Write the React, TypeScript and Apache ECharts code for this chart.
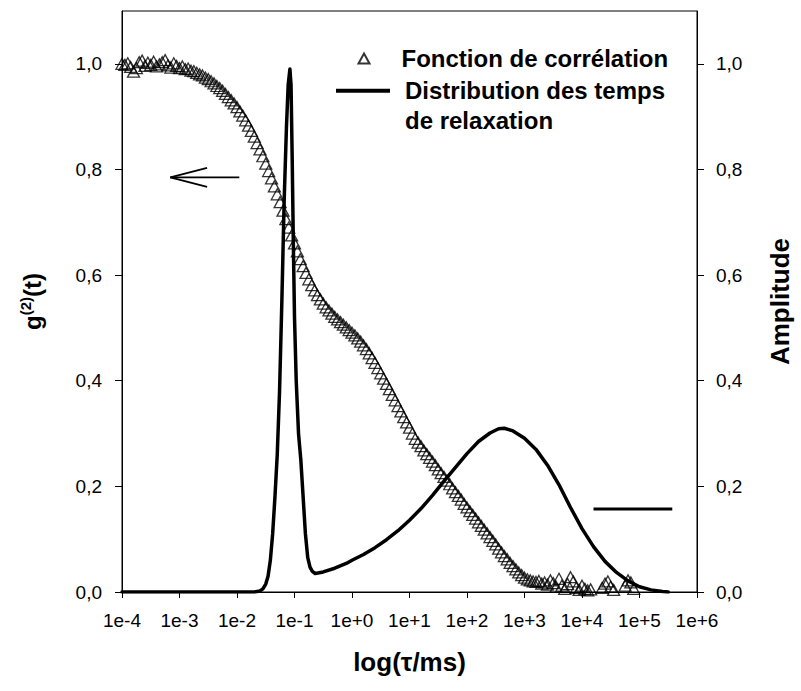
import React, { useEffect, useRef } from "react";
import * as echarts from "echarts";

const FONT = "'Liberation Sans', Arial, sans-serif";

// log10(tau / ms) ticks and amplitude ticks
const xTickValues = [-4, -3, -2, -1, 0, 1, 2, 3, 4, 5, 6];
const yTickValues = [0, 0.2, 0.4, 0.6, 0.8, 1.0];

const seriesNames = ["Fonction de corrélation", "Distribution des temps de relaxation"];
const legendLines = ["Fonction de corrélation", "Distribution des temps", "de relaxation"];

// Correlation function g2(t) : [log10(tau), g2]
const correlationPoints = [
  [-4.0, 1.0], [-3.95, 0.998], [-3.9, 1.001], [-3.85, 0.994], [-3.8, 0.985], [-3.75, 0.992],
  [-3.7, 1.003], [-3.65, 1.006], [-3.6, 0.996], [-3.55, 1.002], [-3.5, 0.998], [-3.45, 1.004],
  [-3.4, 0.995], [-3.35, 0.999], [-3.3, 1.003], [-3.25, 1.007], [-3.2, 0.997], [-3.15, 0.993],
  [-3.1, 1.001], [-3.05, 0.996], [-3.0, 0.992], [-2.95, 0.995], [-2.9, 0.99], [-2.85, 0.991],
  [-2.8, 0.987], [-2.75, 0.986], [-2.7, 0.983], [-2.65, 0.98], [-2.6, 0.978], [-2.55, 0.974],
  [-2.5, 0.971], [-2.45, 0.967], [-2.4, 0.963], [-2.35, 0.958], [-2.3, 0.954], [-2.25, 0.949],
  [-2.2, 0.943], [-2.15, 0.937], [-2.1, 0.931], [-2.05, 0.925], [-2.0, 0.918], [-1.95, 0.91],
  [-1.9, 0.902], [-1.85, 0.893], [-1.8, 0.883], [-1.75, 0.873], [-1.7, 0.862], [-1.65, 0.85],
  [-1.6, 0.838], [-1.55, 0.825], [-1.5, 0.811], [-1.45, 0.797], [-1.4, 0.783], [-1.35, 0.768],
  [-1.3, 0.753], [-1.25, 0.738], [-1.2, 0.722], [-1.15, 0.706], [-1.1, 0.69], [-1.05, 0.675],
  [-1.0, 0.66], [-0.95, 0.645], [-0.9, 0.63], [-0.85, 0.617], [-0.8, 0.604], [-0.75, 0.592],
  [-0.7, 0.581], [-0.65, 0.571], [-0.6, 0.562], [-0.55, 0.554], [-0.5, 0.546], [-0.45, 0.539],
  [-0.4, 0.533], [-0.35, 0.527], [-0.3, 0.521], [-0.25, 0.516], [-0.2, 0.511], [-0.15, 0.506],
  [-0.1, 0.501], [-0.05, 0.496], [0.0, 0.491], [0.05, 0.486], [0.1, 0.48], [0.15, 0.474],
  [0.2, 0.467], [0.25, 0.46], [0.3, 0.452], [0.35, 0.443], [0.4, 0.434], [0.45, 0.424],
  [0.5, 0.414], [0.55, 0.404], [0.6, 0.394], [0.65, 0.384], [0.7, 0.373], [0.75, 0.363],
  [0.8, 0.352], [0.85, 0.342], [0.9, 0.331], [0.95, 0.321], [1.0, 0.311], [1.05, 0.3],
  [1.1, 0.29], [1.15, 0.283], [1.2, 0.276], [1.25, 0.268], [1.3, 0.261], [1.35, 0.254],
  [1.4, 0.247], [1.45, 0.24], [1.5, 0.232], [1.55, 0.225], [1.6, 0.218], [1.65, 0.211],
  [1.7, 0.204], [1.75, 0.196], [1.8, 0.189], [1.85, 0.182], [1.9, 0.175], [1.95, 0.167],
  [2.0, 0.16], [2.05, 0.153], [2.1, 0.146], [2.15, 0.139], [2.2, 0.132], [2.25, 0.125],
  [2.3, 0.118], [2.35, 0.111], [2.4, 0.104], [2.45, 0.097], [2.5, 0.09], [2.55, 0.082],
  [2.6, 0.075], [2.65, 0.068], [2.7, 0.062], [2.75, 0.055], [2.8, 0.049], [2.85, 0.043],
  [2.9, 0.037], [2.95, 0.032], [3.0, 0.027], [3.05, 0.024], [3.1, 0.022], [3.15, 0.02],
  [3.2, 0.019], [3.25, 0.021], [3.3, 0.016], [3.35, 0.018], [3.4, 0.014], [3.45, 0.022],
  [3.5, 0.017], [3.55, 0.01], [3.6, 0.025], [3.65, 0.012], [3.7, 0.006], [3.75, 0.015],
  [3.8, 0.028], [3.85, 0.02], [3.9, 0.008], [3.95, 0.004], [4.0, 0.012], [4.05, 0.006],
  [4.1, 0.003], [4.15, 0.005], [4.35, 0.008], [4.4, 0.016], [4.45, 0.02], [4.5, 0.01],
  [4.55, 0.004], [4.75, 0.012], [4.8, 0.022], [4.85, 0.018], [4.9, 0.006],
];

// Relaxation time distribution : [log10(tau), amplitude]
const distributionPoints = [
  [-4.0, 0], [-3.0, 0], [-2.0, 0], [-1.7, 0.0], [-1.6, 0.002], [-1.55, 0.006], [-1.5, 0.015],
  [-1.46, 0.03], [-1.42, 0.06], [-1.38, 0.11], [-1.34, 0.18], [-1.3, 0.26], [-1.26, 0.38],
  [-1.22, 0.55], [-1.18, 0.74], [-1.14, 0.88], [-1.11, 0.96], [-1.08, 0.99], [-1.06, 0.96],
  [-1.04, 0.82], [-1.02, 0.66], [-1.0, 0.52], [-0.97, 0.4], [-0.93, 0.3], [-0.89, 0.25],
  [-0.85, 0.18], [-0.81, 0.11], [-0.77, 0.065], [-0.73, 0.047], [-0.69, 0.039], [-0.64, 0.035],
  [-0.5, 0.038], [-0.3, 0.045], [-0.1, 0.054], [0.0, 0.06], [0.2, 0.071], [0.4, 0.084],
  [0.6, 0.099], [0.8, 0.116], [1.0, 0.136], [1.2, 0.158], [1.4, 0.183], [1.6, 0.21],
  [1.8, 0.236], [2.0, 0.262], [2.2, 0.285], [2.4, 0.301], [2.55, 0.309], [2.65, 0.31],
  [2.8, 0.305], [3.0, 0.291], [3.2, 0.27], [3.4, 0.24], [3.6, 0.203], [3.8, 0.16],
  [4.0, 0.12], [4.2, 0.086], [4.4, 0.058], [4.6, 0.037], [4.8, 0.021], [5.0, 0.01],
  [5.2, 0.004], [5.4, 0.001], [5.5, 0.0],
];

// Annotations (data coordinates)
const leftArrowShaft = [[-1.96, 0.785], [-3.16, 0.785]];
const leftArrowHead = [[-2.52, 0.803], [-3.16, 0.785], [-2.52, 0.767]];
const rightMarker = [[4.2, 0.157], [5.57, 0.157]];

const fmtTick = (v: number) => (v < 0 ? `1e${v}` : `1e+${v}`);
const fmtY = (v: number) => v.toFixed(1).replace(".", ",");

export default function App() {
  const ref = useRef<HTMLDivElement>(null);
  useEffect(() => {
    if (!ref.current) return;
    const chart = echarts.init(ref.current, null, { renderer: "svg" });
    const tickLabel = { color: "#000", fontFamily: FONT, fontSize: 19 };
    const legendText = { color: "#000", fontFamily: FONT, fontSize: 24, fontWeight: "bold", lineHeight: 30 };
    const yAxisCommon = {
      type: "value",
      min: 0,
      max: 1.1,
      interval: 0.2,
      splitLine: { show: false },
      axisLine: { show: true, onZero: false, lineStyle: { color: "#000", width: 1 } },
      axisTick: { show: true, inside: false, length: 7, lineStyle: { color: "#000" }, customValues: yTickValues },
      nameLocation: "middle",
      nameRotate: 90,
    };
    chart.setOption({
      animation: false,
      backgroundColor: "#fff",
      grid: { left: 122, right: 103, top: 11, bottom: 99, show: true, borderColor: "#000", borderWidth: 1, containLabel: false },
      legend: [
        {
          data: [{ name: seriesNames[0], icon: "triangle" }],
          left: 357.5,
          top: 43.5,
          padding: 0,
          itemWidth: 11,
          itemHeight: 10,
          selectedMode: false,
          formatter: () => `{a|${legendLines[0]}}`,
          textStyle: { ...legendText, rich: { a: { ...legendText, padding: [0, 0, 0, 27] } } },
        },
        {
          data: [{ name: seriesNames[1], icon: "rect" }],
          left: 336,
          top: 45.7,
          padding: 0,
          itemWidth: 54,
          itemHeight: 4,
          selectedMode: false,
          formatter: () => `{e| }\n{a|${legendLines[1]}}\n{a|${legendLines[2]}}`,
          textStyle: { ...legendText, rich: { a: { ...legendText, padding: [0, 0, 0, 10] }, e: { ...legendText } } },
        },
      ],
      xAxis: {
        type: "value",
        min: -4,
        max: 6,
        interval: 1,
        name: "log(τ/ms)",
        nameLocation: "middle",
        nameGap: 57,
        nameTextStyle: { color: "#000", fontFamily: FONT, fontSize: 26, fontWeight: "bold" },
        splitLine: { show: false },
        axisLine: { show: true, onZero: false, lineStyle: { color: "#000", width: 1 } },
        axisTick: { show: true, inside: false, length: 6, lineStyle: { color: "#000" }, customValues: xTickValues },
        axisLabel: { ...tickLabel, margin: 19, formatter: (v: number) => fmtTick(v), customValues: xTickValues },
      },
      yAxis: [
        {
          ...yAxisCommon,
          position: "left",
          name: "{g|g}{sup|(2)}{g|(t)}",
          nameGap: 76,
          nameTextStyle: {
            color: "#000",
            fontFamily: FONT,
            fontWeight: "bold",
            fontSize: 24,
            rich: {
              g: { color: "#000", fontFamily: FONT, fontWeight: "bold", fontSize: 24, lineHeight: 28 },
              sup: { color: "#000", fontFamily: FONT, fontWeight: "bold", fontSize: 15, lineHeight: 28, verticalAlign: "top", padding: [0, 0, 8, 0] },
            },
          },
          axisLabel: { ...tickLabel, margin: 20, formatter: (v: number) => fmtY(v), customValues: yTickValues },
        },
        {
          ...yAxisCommon,
          position: "right",
          name: "Amplitude",
          nameGap: 70,
          nameTextStyle: { color: "#000", fontFamily: FONT, fontSize: 26, fontWeight: "bold" },
          axisLabel: { ...tickLabel, margin: 19, formatter: (v: number) => fmtY(v), customValues: yTickValues },
        },
      ],
      series: [
        {
          name: seriesNames[0],
          type: "scatter",
          symbol: "triangle",
          symbolSize: [12, 11],
          yAxisIndex: 0,
          data: correlationPoints,
          itemStyle: { color: "rgba(0,0,0,0)", borderColor: "#000", borderWidth: 1.3 },
          silent: true,
          z: 2,
        },
        {
          name: seriesNames[1],
          type: "line",
          yAxisIndex: 1,
          data: distributionPoints,
          symbol: "none",
          showSymbol: false,
          smooth: false,
          lineStyle: { color: "#000", width: 3.5, join: "round", cap: "round" },
          itemStyle: { color: "#000" },
          silent: true,
          z: 3,
        },
        {
          name: "arrowShaft",
          type: "line",
          data: leftArrowShaft,
          symbol: "none",
          lineStyle: { color: "#000", width: 1.8 },
          silent: true,
        },
        {
          name: "arrowHead",
          type: "line",
          data: leftArrowHead,
          symbol: "none",
          lineStyle: { color: "#000", width: 1.8 },
          silent: true,
        },
        {
          name: "rightMarker",
          type: "line",
          yAxisIndex: 1,
          data: rightMarker,
          symbol: "none",
          lineStyle: { color: "#000", width: 3 },
          silent: true,
        },
      ],
    });
    return () => chart.dispose();
  }, []);
  return <div ref={ref} style={{ position: "absolute", left: 0, top: 0, width: 801, height: 691 }} />;
}
